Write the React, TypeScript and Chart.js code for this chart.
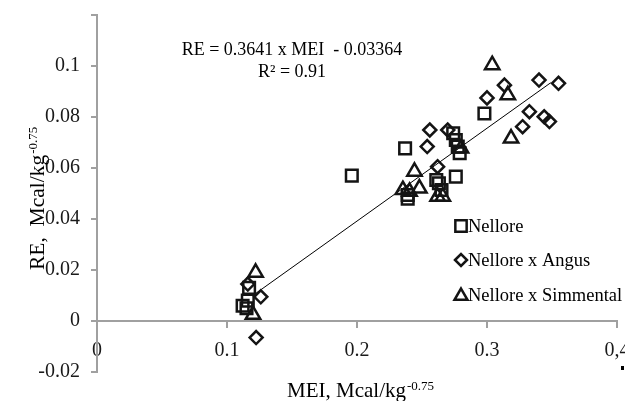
import React, { useEffect, useRef } from 'react';
import { Chart, registerables } from 'chart.js';

Chart.register(...registerables);

// ---------- data ----------
const seriesNames = ['Nellore', 'Nellore x Angus', 'Nellore x Simmental'];

const nelloreMEI = [0.112, 0.115, 0.116, 0.117, 0.196, 0.237, 0.239, 0.239, 0.261, 0.263, 0.265, 0.274, 0.276, 0.2775, 0.279, 0.276, 0.298];
const nelloreRE = [0.006, 0.005, 0.008, 0.013, 0.057, 0.0677, 0.0494, 0.048, 0.0553, 0.054, 0.0514, 0.0736, 0.071, 0.0684, 0.0658, 0.0566, 0.0814];

const angusMEI = [0.116, 0.126, 0.1224, 0.256, 0.254, 0.262, 0.2698, 0.3, 0.3134, 0.34, 0.355, 0.3326, 0.344, 0.348, 0.3274];
const angusRE = [0.0145, 0.0095, -0.0065, 0.0749, 0.0684, 0.0605, 0.0749, 0.0875, 0.0925, 0.0945, 0.0932, 0.0821, 0.0801, 0.0782, 0.0762];

const simmentalMEI = [0.122, 0.12, 0.2442, 0.248, 0.2353, 0.2404, 0.262, 0.266, 0.28, 0.304, 0.316, 0.3185];
const simmentalRE = [0.019, 0.0025, 0.0586, 0.052, 0.0514, 0.0507, 0.0488, 0.0488, 0.0677, 0.1004, 0.0886, 0.0716];

// regression (trend line) y = slope * x + intercept over the fitted MEI range
const trendSlope = 0.3641;
const trendIntercept = -0.03364;
const trendMEI = [0.12, 0.349];

const xTickLabels = ['0', '0.1', '0.2', '0.3', '0,4'];
const yTickLabels = ['-0.02', '0', '0.02', '0.04', '0.06', '0.08', '0.1', ''];

const equationLines = ['RE = 0.3641 x MEI  - 0.03364', 'R\u00B2 = 0.91'];
const xTitle = 'MEI, Mcal/kg';
const yTitle = 'RE,  Mcal/kg';
const titleSup = '-0.75';

// ---------- styles ----------
const FONT = "'Liberation Serif', 'Times New Roman', serif";
const AXIS = '#a0a0a0';
const MARK = '#141414';

function drawSup(ctx: CanvasRenderingContext2D, main: string, sup: string, x: number, y: number, size: number, supSize: number) {
  ctx.textAlign = 'left';
  ctx.textBaseline = 'alphabetic';
  ctx.font = `${size}px ${FONT}`;
  ctx.fillText(main, x, y);
  const w = ctx.measureText(main).width;
  ctx.font = `${supSize}px ${FONT}`;
  ctx.fillText(sup, x + w + 1, y - size * 0.33);
}

function drawMarker(ctx: CanvasRenderingContext2D, style: string, x: number, y: number, r: number) {
  ctx.beginPath();
  if (style === 'rect') {
    const s = r * Math.SQRT1_2;
    ctx.rect(x - s, y - s, 2 * s, 2 * s);
  } else if (style === 'rectRot') {
    ctx.moveTo(x - r, y);
    ctx.lineTo(x, y - r);
    ctx.lineTo(x + r, y);
    ctx.lineTo(x, y + r);
    ctx.closePath();
  } else {
    ctx.moveTo(x, y - r);
    ctx.lineTo(x + r * 0.866, y + r * 0.5);
    ctx.lineTo(x - r * 0.866, y + r * 0.5);
    ctx.closePath();
  }
  ctx.stroke();
}

const figureText = {
  id: 'figureText',
  afterDraw(chart: any) {
    const ctx: CanvasRenderingContext2D = chart.ctx;
    ctx.save();
    ctx.fillStyle = '#000';
    // equation
    ctx.font = `18px ${FONT}`;
    ctx.textAlign = 'center';
    ctx.textBaseline = 'alphabetic';
    ctx.fillText(equationLines[0], 292, 55);
    ctx.fillText(equationLines[1], 292, 77);

    // x title
    drawSup(ctx, xTitle, titleSup, 287, 397, 21, 13);

    // small scan mark next to the last x label
    ctx.fillRect(621, 366, 3, 4);

    // legend
    const styles = ['rect', 'rectRot', 'triangle'];
    const radii = [8, 6, 7.5];
    const baselines = [232, 266, 301];
    ctx.strokeStyle = MARK;
    ctx.lineWidth = 2.5;
    seriesNames.forEach((name, i) => {
      drawMarker(ctx, styles[i], 461, baselines[i] - 6 + (i === 2 ? 1 : 0), radii[i]);
      ctx.fillStyle = '#000';
      ctx.font = `18.5px ${FONT}`;
      ctx.textAlign = 'left';
      ctx.textBaseline = 'alphabetic';
      ctx.fillText(name, 468, baselines[i]);
    });

    // y title (rotated)
    ctx.translate(44, 270);
    ctx.rotate(-Math.PI / 2);
    drawSup(ctx, yTitle, titleSup, 0, 0, 21.5, 13);
    ctx.restore();
  },
};

const toPoints = (xs: number[], ys: number[]) => xs.map((x, i) => ({ x, y: ys[i] }));

export default function App() {
  const ref = useRef<HTMLCanvasElement | null>(null);

  useEffect(() => {
    if (!ref.current) return;
    const markerBase = {
      type: 'scatter' as const,
      borderColor: MARK,
      backgroundColor: 'rgba(0,0,0,0)',
      pointBorderWidth: 2.5,
      showLine: false,
    };
    const tickFont = { family: FONT, size: 20 };
    const chart = new Chart(ref.current, {
      type: 'scatter',
      data: {
        datasets: [
          { ...markerBase, label: seriesNames[0], data: toPoints(nelloreMEI, nelloreRE), pointStyle: 'rect', pointRadius: 8.2 },
          { ...markerBase, label: seriesNames[1], data: toPoints(angusMEI, angusRE), pointStyle: 'rectRot', pointRadius: 6.5 },
          { ...markerBase, label: seriesNames[2], data: toPoints(simmentalMEI, simmentalRE), pointStyle: 'triangle', pointRadius: 8.3 },
          {
            type: 'line' as const,
            label: 'trend',
            data: trendMEI.map((x) => ({ x, y: trendSlope * x + trendIntercept })),
            borderColor: '#000',
            borderWidth: 1,
            pointRadius: 0,
            fill: false,
          },
        ] as any,
      },
      options: {
        responsive: false,
        animation: false,
        events: [],
        devicePixelRatio: 1,
        layout: { padding: { left: 0, top: 15, right: 43, bottom: 29 } },
        plugins: { legend: { display: false }, tooltip: { enabled: false } },
        scales: {
          x: {
            type: 'linear',
            position: { y: 0 } as any,
            min: 0,
            max: 0.4,
            ticks: {
              stepSize: 0.1,
              autoSkip: false,
              maxRotation: 0,
              padding: 12,
              color: '#1a1a1a',
              font: tickFont,
              callback: (_v: any, i: number) => xTickLabels[i],
            },
            grid: { drawOnChartArea: false, drawTicks: true, tickLength: 6, color: AXIS, lineWidth: 2 },
            border: { display: true, color: AXIS, width: 2 },
          },
          y: {
            type: 'linear',
            position: 'left',
            min: -0.02,
            max: 0.12,
            ticks: {
              stepSize: 0.02,
              autoSkip: false,
              padding: 11,
              color: '#1a1a1a',
              font: tickFont,
              callback: (_v: any, i: number) => yTickLabels[i],
            },
            grid: { drawOnChartArea: false, drawTicks: true, tickLength: 6, color: AXIS, lineWidth: 2 },
            border: { display: true, color: AXIS, width: 2 },
            afterFit: (s: any) => {
              s.width = 97;
              s.paddingTop = 0;
              s.paddingBottom = 0;
            },
          },
        },
      } as any,
      plugins: [figureText],
    });
    return () => chart.destroy();
  }, []);

  return (
    <div style={{ position: 'absolute', left: 0, top: 0, width: 625, height: 401, overflow: 'hidden', background: '#fff' }}>
      <canvas ref={ref} width={660} height={401} style={{ display: 'block', width: 660, height: 401 }} />
    </div>
  );
}
